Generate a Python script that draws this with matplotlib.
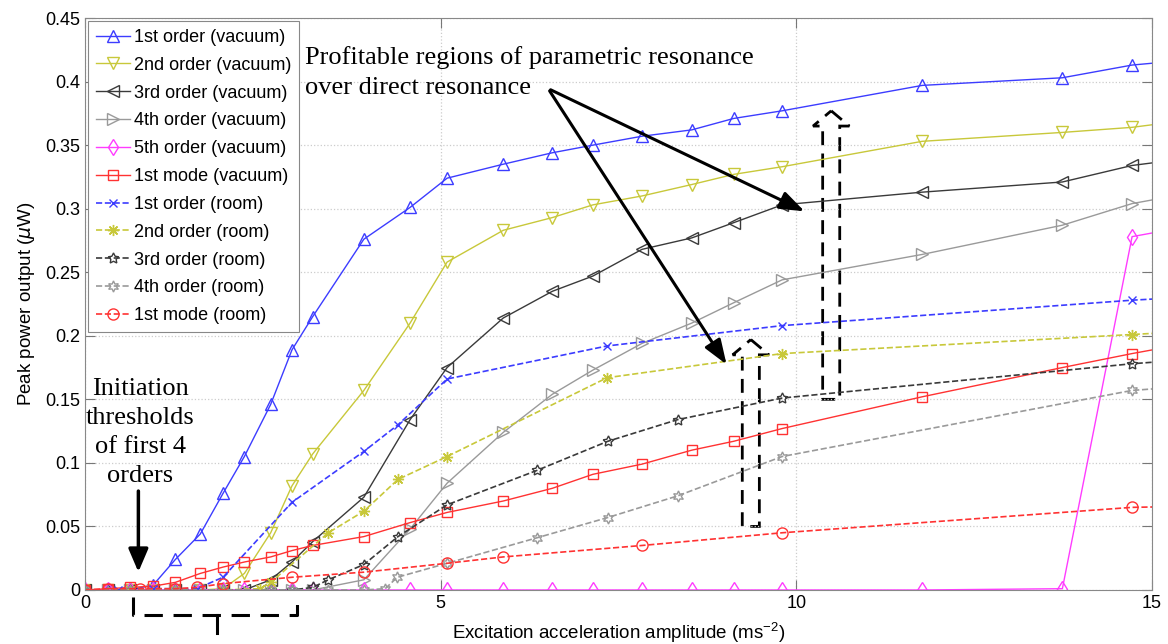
import numpy as np
import matplotlib
matplotlib.use('Agg')
from matplotlib import pyplot as plt
from matplotlib.patches import FancyArrow

# x positions of the vacuum sweeps (ms^-2); the last one sits past the axis edge
x_vac = [0, 0.32, 0.63, 0.96, 1.27, 1.62, 1.94, 2.24, 2.61, 2.91, 3.2, 3.92, 4.57,
         5.09, 5.88, 6.57, 7.14, 7.83, 8.53, 9.12, 9.80, 11.77, 13.74, 14.72, 15.7]

o1_vac = [0, 0, 0, 0.004, 0.024, 0.044, 0.076, 0.105, 0.146, 0.189, 0.215, 0.276, 0.301,
          0.324, 0.335, 0.344, 0.350, 0.357, 0.362, 0.371, 0.377, 0.397, 0.403, 0.413, 0.418]
o2_vac = [0, 0, 0, 0, 0, 0, 0.001, 0.013, 0.045, 0.082, 0.107, 0.157, 0.210,
          0.258, 0.283, 0.293, 0.303, 0.310, 0.319, 0.327, 0.333, 0.353, 0.360, 0.364, 0.371]
o3_vac = [0, 0, 0, 0, 0, 0, 0, 0, 0.008, 0.022, 0.038, 0.073, 0.134,
          0.175, 0.214, 0.235, 0.247, 0.268, 0.277, 0.289, 0.303, 0.313, 0.321, 0.334, 0.341]
o4_vac = [0, 0, 0, 0, 0, 0, 0, 0, 0, 0, 0, 0.008, 0.048,
          0.084, 0.124, 0.154, 0.173, 0.194, 0.210, 0.226, 0.244, 0.264, 0.287, 0.304, 0.314]
o5_vac = [0, 0, 0, 0, 0, 0, 0, 0, 0, 0, 0, 0, 0,
          0, 0, 0, 0, 0, 0, 0, 0, 0, 0.001, 0.278, 0.288]
m1_vac = [0, 0.001, 0.002, 0.003, 0.006, 0.013, 0.018, 0.022, 0.026, 0.031, 0.035, 0.042, 0.053,
          0.061, 0.070, 0.080, 0.091, 0.099, 0.110, 0.117, 0.127, 0.152, 0.175, 0.186, 0.196]

# room pressure sweeps, each with its own x points
x_o1_room = [0, 0.46, 0.96, 1.57, 1.94, 2.91, 3.92, 4.40, 5.09, 7.34, 9.80, 14.72, 15.7]
o1_room = [0, 0, 0.001, 0.001, 0.010, 0.069, 0.109, 0.130, 0.166, 0.192, 0.208, 0.228, 0.231]

x_o2_room = [0, 0.63, 1.27, 1.94, 2.46, 2.61, 3.42, 3.92, 4.40, 5.09, 7.34, 9.80, 14.72, 15.7]
o2_room = [0, 0, 0, 0, 0.001, 0.006, 0.045, 0.062, 0.087, 0.105, 0.167, 0.186, 0.201, 0.204]

x_o3_room = [0, 0.63, 1.27, 1.94, 2.61, 2.91, 3.2, 3.42, 3.92, 4.40, 5.09, 6.35, 7.35, 8.33,
             9.80, 14.72, 15.7]
o3_room = [0, 0, 0, 0, 0, 0, 0.002, 0.008, 0.020, 0.042, 0.067, 0.094, 0.117, 0.134,
           0.151, 0.178, 0.182]

x_o4_room = [0, 0.63, 1.27, 1.94, 2.61, 2.91, 3.42, 3.92, 4.22, 4.39, 5.09, 6.35, 7.35, 8.33,
             9.80, 14.72, 15.7]
o4_room = [0, 0, 0, 0, 0, 0, 0, 0, 0.001, 0.010, 0.021, 0.041, 0.057, 0.074,
           0.105, 0.157, 0.161]

x_m1_room = [0, 0.32, 0.77, 1.27, 1.57, 1.94, 2.91, 3.92, 5.09, 5.88, 7.83, 9.80, 14.72, 15.7]
m1_room = [0, 0.001, 0.001, 0.001, 0.002, 0.005, 0.010, 0.014, 0.021, 0.026, 0.035, 0.045,
           0.065, 0.066]

labels = ['1st order (vacuum)', '2nd order (vacuum)', '3rd order (vacuum)',
          '4th order (vacuum)', '5th order (vacuum)', '1st mode (vacuum)',
          '1st order (room)', '2nd order (room)', '3rd order (room)',
          '4th order (room)', '1st mode (room)']

blue = '#3c3cff'
olive = '#c8c83a'
dark = '#3a3a3a'
grey = '#9a9a9a'
magenta = '#ff3cff'
red = '#ff3232'

plt.rcParams['font.family'] = ['Liberation Sans', 'DejaVu Sans']
plt.rcParams['mathtext.fontset'] = 'custom'
plt.rcParams['mathtext.rm'] = 'Liberation Sans'

fig = plt.figure(figsize=(11.68, 6.44), dpi=100)
ax = fig.add_axes([0.0728, 0.0839, 0.9135, 0.8881])

ms = 8
ax.plot(x_vac, o1_vac, '-', color=blue, marker='^', ms=ms, mfc='none', lw=1, label=labels[0])
ax.plot(x_vac, o2_vac, '-', color=olive, marker='v', ms=ms, mfc='none', lw=1, label=labels[1])
ax.plot(x_vac, o3_vac, '-', color=dark, marker='<', ms=ms, mfc='none', lw=1, label=labels[2])
ax.plot(x_vac, o4_vac, '-', color=grey, marker='>', ms=ms, mfc='none', lw=1, label=labels[3])
ax.plot(x_vac, o5_vac, '-', color=magenta, marker='d', ms=ms, mfc='none', lw=1, label=labels[4])
ax.plot(x_vac, m1_vac, '-', color=red, marker='s', ms=6.5, mfc='none', lw=1, label=labels[5])
ax.plot(x_o1_room, o1_room, '--', color=blue, marker='x', ms=6, lw=1.2, label=labels[6])
ax.plot(x_o2_room, o2_room, '--', color=olive, marker=(8, 2, 0), ms=8, lw=1.2, label=labels[7])
ax.plot(x_o3_room, o3_room, '--', color=dark, marker=(5, 1, 0), ms=8, mfc='none', lw=1.2, label=labels[8])
ax.plot(x_o4_room, o4_room, '--', color=grey, marker=(6, 1, 0), ms=8, mfc='none', lw=1.2, label=labels[9])
ax.plot(x_m1_room, m1_room, '--', color=red, marker='o', ms=8, mfc='none', lw=1.2, label=labels[10])

ax.set_xlim(0, 15)
ax.set_ylim(0, 0.45)
ax.set_xticks([0, 5, 10, 15])
ax.set_yticks(np.arange(0, 0.451, 0.05))
ax.set_yticklabels(['0', '0.05', '0.1', '0.15', '0.2', '0.25', '0.3', '0.35', '0.4', '0.45'])
ax.tick_params(direction='in', length=7, top=True, right=True, labelsize=13, color='#777777')
ax.grid(True, linestyle=':', color='#cccccc', lw=0.9)
for s in ax.spines.values():
    s.set_color('#888888')
ax.set_xlabel('Excitation acceleration amplitude (ms$^{-2}$)', fontsize=13.5, labelpad=6)
ax.set_ylabel('Peak power output ($\\mu$W)', fontsize=13.5, labelpad=6)

leg = ax.legend(loc='upper left', fontsize=13, handlelength=1.9, handletextpad=0.2,
                labelspacing=0.6, borderaxespad=0.15, borderpad=0.45, fancybox=False,
                framealpha=1, edgecolor='#888888')
leg.get_frame().set_linewidth(0.8)

serif = ['Liberation Serif', 'DejaVu Serif']

# annotation: initiation thresholds
ax.text(0.78, 0.124, 'Initiation\nthresholds\nof first 4\norders', ha='center', va='center',
        fontsize=19, family=serif, linespacing=1.4)
ax.annotate('', xy=(0.75, 0.012), xytext=(0.75, 0.080),
            arrowprops=dict(arrowstyle='-|>,head_length=1.4,head_width=0.6', color='black', lw=2.5))

# dashed bracket under the axis
bx0, bx1, bxm = 0.68, 2.98, 1.85
ax.plot([bx0, bx0, bx1, bx1], [-0.0055, -0.0197, -0.0197, -0.0055], '--', color='black',
        lw=2.2, clip_on=False, dashes=(6, 3.5))
ax.plot([bxm, bxm], [-0.0197, -0.034], '-', color='black', lw=2.2, clip_on=False)

# annotation: profitable regions
ax.text(3.09, 0.428, 'Profitable regions of parametric resonance\nover direct resonance',
        ha='left', va='top', fontsize=19, family=serif, linespacing=1.45)
ax.annotate('', xy=(10.15, 0.297), xytext=(6.51, 0.3945),
            arrowprops=dict(arrowstyle='-|>,head_length=1.5,head_width=0.55', color='black', lw=2.2))
ax.annotate('', xy=(9.04, 0.1756), xytext=(6.51, 0.3945),
            arrowprops=dict(arrowstyle='-|>,head_length=1.5,head_width=0.55', color='black', lw=2.2))

# hollow dashed block arrows
for cx, y0, y1 in [(10.49, 0.150, 0.377), (9.36, 0.050, 0.197)]:
    arr = FancyArrow(cx, y0, 0, y1 - y0, width=0.24, head_width=0.51, head_length=0.012,
                     length_includes_head=True, fill=False, edgecolor='black', lw=2,
                     linestyle=(0, (5, 3)))
    ax.add_patch(arr)

plt.savefig('out.png', dpi=100)
